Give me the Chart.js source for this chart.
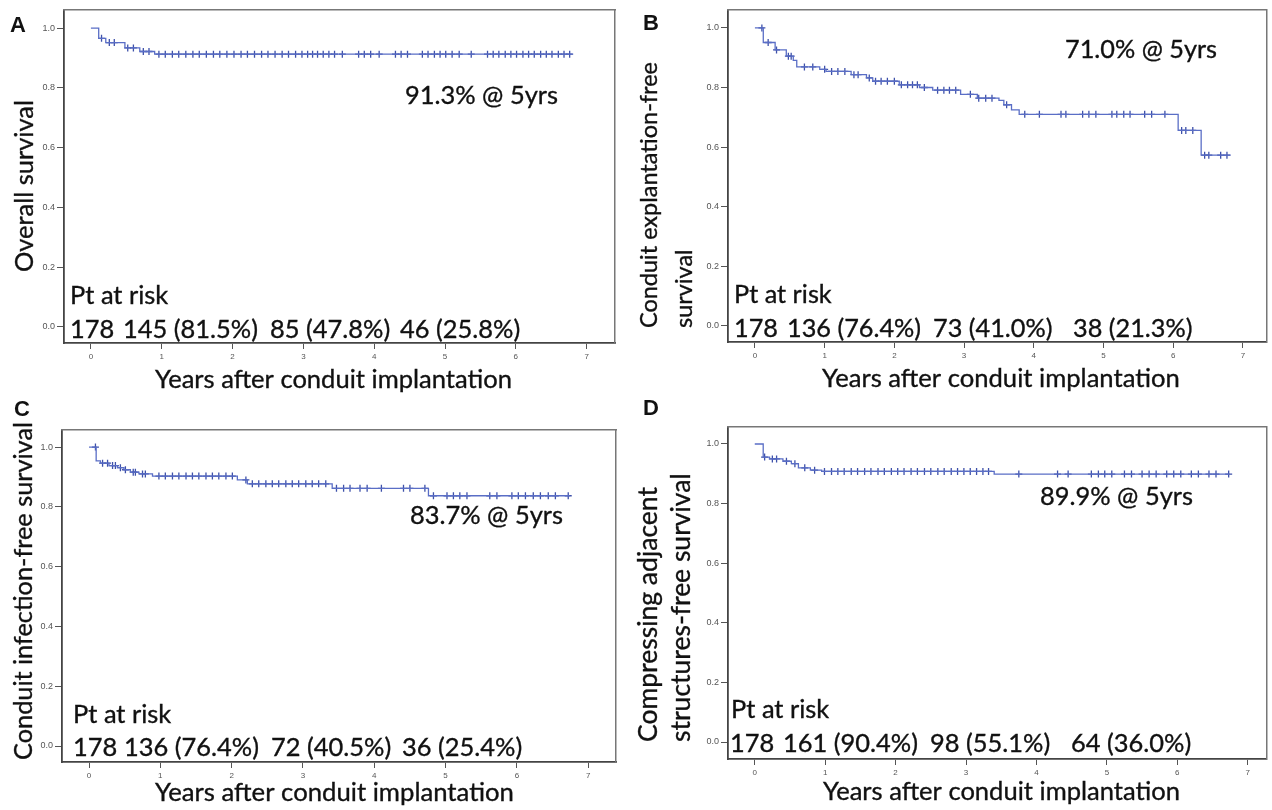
<!DOCTYPE html>
<html>
<head>
<meta charset="utf-8">
<script src="https://cdn.jsdelivr.net/npm/chart.js@4.4.0/dist/chart.umd.min.js"></script>
<style>
  html, body { margin: 0; padding: 0; background: #fff; }
  #wrap { position: relative; width: 1272px; height: 810px; overflow: hidden; }
  .panel { position: absolute; width: 636px; }
</style>
</head>
<body>
<div id="wrap">
  <div class="panel" style="left:0;top:0;height:398px"><canvas id="chartA"></canvas></div>
  <div class="panel" style="left:636px;top:0;height:398px"><canvas id="chartB"></canvas></div>
  <div class="panel" style="left:0;top:388px;height:422px"><canvas id="chartC"></canvas></div>
  <div class="panel" style="left:636px;top:388px;height:422px"><canvas id="chartD"></canvas></div>
</div>
<script>
const yearTicks = [0, 1, 2, 3, 4, 5, 6, 7];
const survivalTicks = [0, 0.2, 0.4, 0.6, 0.8, 1.0];

// A - overall survival
const overallTimes = [0, 0.11, 0.21, 0.48, 0.69, 0.9, 6.8];
const overallSurvival = [1.0, 0.966, 0.952, 0.934, 0.922, 0.913, 0.913];
const overallCensored = [0.15, 0.26, 0.33, 0.52, 0.6, 0.74, 0.82, 0.96, 1.05, 1.15, 1.24, 1.34, 1.44, 1.53, 1.63, 1.73, 1.82, 1.92, 2.02, 2.12, 2.21, 2.31, 2.41, 2.5, 2.6, 2.7, 2.79, 2.89, 2.98, 3.06, 3.13, 3.2, 3.28, 3.36, 3.44, 3.55, 3.78, 3.86, 3.95, 4.07, 4.3, 4.38, 4.47, 4.68, 4.76, 4.85, 4.93, 5.01, 5.1, 5.2, 5.37, 5.6, 5.68, 5.76, 5.85, 5.93, 6.01, 6.1, 6.18, 6.26, 6.35, 6.43, 6.51, 6.6, 6.68, 6.76];
const overallAtRisk = ["178", "145 (81.5%)", "85 (47.8%)", "46 (25.8%)"];

// B - conduit explantation-free survival
const explantTimes = [0, 0.12, 0.29, 0.45, 0.55, 0.6, 0.93, 1.02, 1.38, 1.6, 1.69, 2.07, 2.36, 2.55, 2.95, 3.19, 3.5, 3.57, 3.68, 3.79, 6.07, 6.4, 6.82];
const explantSurvival = [1.0, 0.951, 0.926, 0.905, 0.891, 0.869, 0.861, 0.854, 0.843, 0.832, 0.821, 0.809, 0.8, 0.791, 0.777, 0.764, 0.757, 0.742, 0.725, 0.71, 0.656, 0.573, 0.573];
const explantCensored = [0.1, 0.19, 0.31, 0.48, 0.52, 0.71, 0.83, 1.0, 1.1, 1.19, 1.29, 1.42, 1.48, 1.64, 1.73, 1.81, 1.9, 2.0, 2.1, 2.19, 2.26, 2.33, 2.43, 2.62, 2.71, 2.79, 2.88, 3.09, 3.21, 3.31, 3.4, 3.61, 3.87, 4.08, 4.39, 4.46, 4.7, 4.79, 4.89, 5.12, 5.19, 5.29, 5.38, 5.59, 5.69, 5.88, 6.12, 6.18, 6.28, 6.45, 6.51, 6.68, 6.77];
const explantAtRisk = ["178", "136 (76.4%)", "73 (41.0%)", "38 (21.3%)"];

// C - conduit infection-free survival
const infectTimes = [0, 0.1, 0.16, 0.28, 0.4, 0.49, 0.58, 0.7, 0.89, 2.08, 2.22, 3.41, 4.76, 6.74];
const infectSurvival = [1.0, 0.954, 0.946, 0.938, 0.931, 0.924, 0.916, 0.91, 0.903, 0.89, 0.877, 0.862, 0.837, 0.837];
const infectCensored = [0.09, 0.19, 0.26, 0.33, 0.37, 0.44, 0.51, 0.62, 0.65, 0.75, 0.79, 0.98, 1.07, 1.17, 1.26, 1.36, 1.45, 1.54, 1.64, 1.73, 1.82, 1.92, 2.01, 2.2, 2.29, 2.38, 2.48, 2.57, 2.66, 2.76, 2.85, 2.94, 3.04, 3.13, 3.22, 3.32, 3.47, 3.57, 3.66, 3.8, 3.9, 4.1, 4.41, 4.5, 4.71, 4.83, 5.02, 5.11, 5.2, 5.3, 5.62, 5.72, 5.93, 6.02, 6.12, 6.23, 6.33, 6.44, 6.54, 6.72];
const infectAtRisk = ["178", "136 (76.4%)", "72 (40.5%)", "36 (25.4%)"];

// D - compressing adjacent structures-free survival
const compressTimes = [0, 0.12, 0.21, 0.4, 0.52, 0.62, 0.79, 0.95, 3.4, 6.74];
const compressSurvival = [1.0, 0.956, 0.95, 0.942, 0.934, 0.92, 0.912, 0.908, 0.899, 0.899];
const compressCensored = [0.14, 0.25, 0.31, 0.45, 0.57, 0.71, 0.85, 0.99, 1.09, 1.18, 1.27, 1.37, 1.46, 1.56, 1.65, 1.75, 1.84, 1.94, 2.03, 2.12, 2.22, 2.31, 2.41, 2.5, 2.6, 2.69, 2.79, 2.88, 2.97, 3.06, 3.15, 3.24, 3.32, 3.75, 4.3, 4.45, 4.78, 4.88, 4.97, 5.07, 5.25, 5.35, 5.5, 5.6, 5.7, 5.85, 5.95, 6.05, 6.2, 6.3, 6.45, 6.55, 6.73];
const compressAtRisk = ["178", "161 (90.4%)", "98 (55.1%)", "64 (36.0%)"];

const FONT = "Lato, 'Open Sans', sans-serif";
const LINE_COLOR = "#5a6ec6";
const MARK_COLOR = "#3e51aa";
const TEXT_COLOR = "#111";

// layout in absolute page pixels
const panels = [
  {
    id: "chartA", ox: 0, oy: 0, oh: 398, letter: "A", letterPos: [10, 32],
    area: [64, 10, 615, 343], xRange: [-0.38, 7.4], yRange: [-0.054, 1.061],
    times: overallTimes, surv: overallSurvival, censored: overallCensored,
    yTitle: ["Overall survival"], yTitleX: [33], yTitleY: 272, yTitleW: 172,
    xTitle: [155, 388, 357],
    note: ["91.3% @ 5yrs", 405, 104, 153],
    atRisk: overallAtRisk, riskX: [70, 123, 270, 400], riskY: 338, headPos: [70, 304]
  },
  {
    id: "chartB", ox: 636, oy: 0, oh: 398, letter: "B", letterPos: [643, 30],
    area: [728, 10, 1269, 342], xRange: [-0.386, 7.34], yRange: [-0.054, 1.06],
    times: explantTimes, surv: explantSurvival, censored: explantCensored,
    yTitle: ["Conduit explantation-free", "survival"], yTitleX: [657, 692], yTitleY: 328, yTitleW: 266,
    xTitle: [822, 387, 358],
    note: ["71.0% @ 5yrs", 1065, 58, 152],
    atRisk: explantAtRisk, riskX: [734, 787, 933, 1073], riskY: 337, headPos: [734, 303]
  },
  {
    id: "chartC", ox: 0, oy: 388, oh: 422, letter: "C", letterPos: [14, 416],
    area: [62, 430, 616, 762], xRange: [-0.379, 7.39], yRange: [-0.0535, 1.057],
    times: infectTimes, surv: infectSurvival, censored: infectCensored,
    yTitle: ["Conduit infection-free survival"], yTitleX: [32], yTitleY: 760, yTitleW: 338,
    xTitle: [155, 801, 359],
    note: ["83.7% @ 5yrs", 410, 524, 153],
    atRisk: infectAtRisk, riskX: [73, 124, 271, 402], riskY: 756, headPos: [73, 723]
  },
  {
    id: "chartD", ox: 636, oy: 388, oh: 422, letter: "D", letterPos: [643, 415],
    area: [728, 427, 1268, 759], xRange: [-0.38, 7.27], yRange: [-0.057, 1.057],
    times: compressTimes, surv: compressSurvival, censored: compressCensored,
    yTitle: ["Compressing adjacent", "structures-free survival"], yTitleX: [657, 690], yTitleY: 742, yTitleW: 255,
    xTitle: [823, 800, 357],
    note: ["89.9% @ 5yrs", 1040, 505, 153],
    atRisk: compressAtRisk, riskX: [730, 783, 930, 1071], riskY: 752, headPos: [731, 718]
  }
];

function stepValue(times, surv, t) {
  let v = surv[0];
  for (let i = 0; i < times.length; i++) {
    if (times[i] <= t) v = surv[i];
  }
  return v;
}

function fitSize(ctx, text, width) {
  ctx.font = "100px " + FONT;
  return 100 * width / ctx.measureText(text).width;
}

// slightly heavier text, the original figure uses a darker face
function heavyText(ctx, text, x, y) {
  ctx.fillText(text, x, y);
  ctx.strokeText(text, x, y);
}

function textPlugin(p) {
  return {
    id: "panelText" + p.letter,
    afterDraw(chart) {
      const ctx = chart.ctx;
      ctx.save();
      ctx.translate(-p.ox, -p.oy);
      ctx.fillStyle = TEXT_COLOR;
      ctx.strokeStyle = TEXT_COLOR;
      ctx.lineWidth = 0.35;
      ctx.textBaseline = "alphabetic";
      ctx.textAlign = "left";

      // panel letter
      ctx.font = "bold 22px Arial, 'Liberation Sans', sans-serif";
      ctx.fillText(p.letter, p.letterPos[0], p.letterPos[1]);

      // y title (rotated)
      const ySize = fitSize(ctx, p.yTitle[0], p.yTitleW);
      ctx.font = ySize.toFixed(2) + "px " + FONT;
      p.yTitle.forEach((line, i) => {
        ctx.save();
        ctx.translate(p.yTitleX[i], p.yTitleY);
        ctx.rotate(-Math.PI / 2);
        heavyText(ctx, line, 0, 0);
        ctx.restore();
      });

      // x title
      const xText = "Years after conduit implantation";
      const xSize = fitSize(ctx, xText, p.xTitle[2]);
      ctx.font = xSize.toFixed(2) + "px " + FONT;
      heavyText(ctx, xText, p.xTitle[0], p.xTitle[1]);

      // note + patients at risk
      const bodySize = fitSize(ctx, p.note[0], p.note[3]);
      ctx.font = bodySize.toFixed(2) + "px " + FONT;
      heavyText(ctx, p.note[0], p.note[1], p.note[2]);
      heavyText(ctx, "Pt at risk", p.headPos[0], p.headPos[1]);
      p.atRisk.forEach((s, i) => heavyText(ctx, s, p.riskX[i], p.riskY));
      ctx.restore();
    }
  };
}

function makeChart(p) {
  const [al, at, ar, ab] = p.area;
  const leftW = al - p.ox;
  const topH = at - p.oy;
  const rightW = p.ox + 636 - ar;
  const bottomH = p.oy + p.oh - ab;

  const curve = p.times.map((t, i) => ({ x: t, y: p.surv[i] }));
  const marks = p.censored.map(t => ({ x: t, y: stepValue(p.times, p.surv, t) }));

  return new Chart(document.getElementById(p.id), {
    type: "line",
    data: {
      datasets: [
        {
          data: curve,
          stepped: true,
          borderColor: LINE_COLOR,
          borderWidth: 1.3,
          pointRadius: 0,
          fill: false
        },
        {
          data: marks,
          showLine: false,
          pointStyle: "cross",
          pointRadius: 3.5,
          pointBorderWidth: 1.3,
          pointBorderColor: MARK_COLOR,
          borderColor: MARK_COLOR
        }
      ]
    },
    options: {
      responsive: true,
      maintainAspectRatio: false,
      animation: false,
      layout: { padding: 0 },
      plugins: { legend: { display: false }, tooltip: { enabled: false } },
      scales: {
        x: {
          type: "linear", position: "bottom",
          min: p.xRange[0], max: p.xRange[1],
          afterBuildTicks: s => { s.ticks = yearTicks.map(v => ({ value: v })); },
          afterFit: s => { s.height = bottomH; },
          grid: { display: true, drawOnChartArea: false, drawTicks: true, tickLength: 6, color: "#555", lineWidth: 1 },
          border: { display: true, color: "#444", width: 1.8 },
          ticks: { font: { size: 8, family: "Arial" }, color: "#555", padding: 3, maxRotation: 0, autoSkip: false }
        },
        y: {
          type: "linear", position: "left",
          min: p.yRange[0], max: p.yRange[1],
          afterBuildTicks: s => { s.ticks = survivalTicks.map(v => ({ value: v })); },
          afterFit: s => { s.width = leftW; },
          grid: { display: true, drawOnChartArea: false, drawTicks: true, tickLength: 7, color: "#555", lineWidth: 1 },
          border: { display: true, color: "#444", width: 1.8 },
          ticks: { font: { size: 9, family: "Arial" }, color: "#555", padding: 2, callback: v => v.toFixed(1) }
        },
        xTop: {
          type: "linear", position: "top",
          min: p.xRange[0], max: p.xRange[1],
          afterFit: s => { s.height = topH; },
          grid: { display: false },
          border: { display: true, color: "#777", width: 1.5 },
          ticks: { display: false }
        },
        yRight: {
          type: "linear", position: "right",
          min: p.yRange[0], max: p.yRange[1],
          afterFit: s => { s.width = rightW; },
          grid: { display: false },
          border: { display: true, color: "#777", width: 1.5 },
          ticks: { display: false }
        }
      }
    },
    plugins: [textPlugin(p)]
  });
}

panels.forEach(makeChart);
</script>
</body>
</html>
